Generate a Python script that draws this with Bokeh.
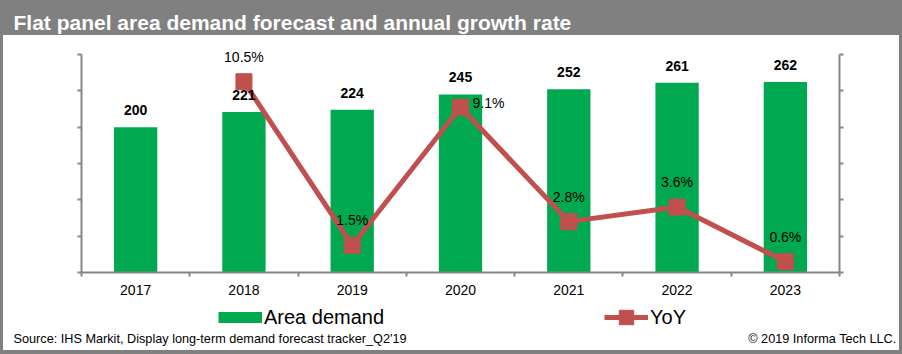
from bokeh.plotting import figure
from bokeh.layouts import column
from bokeh.models import (Range1d, LinearAxis, FixedTicker, ColumnDataSource,
                          LabelSet, Label, Legend, LegendItem)
from bokeh.core.properties import value
from bokeh.embed import file_html
from bokeh.resources import INLINE

# ---- data ----
years = ["2017", "2018", "2019", "2020", "2021", "2022", "2023"]
area_demand = [200, 221, 224, 245, 252, 261, 262]
yoy_years = ["2018", "2019", "2020", "2021", "2022", "2023"]
yoy_pct = [10.5, 1.5, 9.1, 2.8, 3.6, 0.6]
left_ticks = [0, 50, 100, 150, 200, 250, 300]
right_ticks = [0, 2, 4, 6, 8, 10, 12]

title_text = "Flat panel area demand forecast and annual growth rate"
source_text = "Source: IHS Markit, Display long-term demand forecast tracker_Q2'19"
copyright_text = "\u00a9 2019 Informa Tech LLC."

GREEN = "#00A94F"
RED = "#C0504D"
AXIS = "#868686"
FRAME = "#808080"
FONT = "Liberation Sans"

xpos = {y: i + 0.5 for i, y in enumerate(years)}
bar_src = ColumnDataSource(dict(x=[xpos[y] for y in years], top=area_demand,
                                label=[str(v) for v in area_demand]))
yoy_src = ColumnDataSource(dict(x=[xpos[y] for y in yoy_years], y=yoy_pct,
                                label=[f"{v:.1f}%" for v in yoy_pct]))
side_idx = [yoy_years.index("2020")]
above_idx = [i for i in range(len(yoy_years)) if i not in side_idx]
yoy_above = ColumnDataSource(dict(x=[xpos[yoy_years[i]] for i in above_idx],
                                  y=[yoy_pct[i] for i in above_idx],
                                  label=[f"{yoy_pct[i]:.1f}%" for i in above_idx]))
yoy_side = ColumnDataSource(dict(x=[xpos[yoy_years[i]] for i in side_idx],
                                 y=[yoy_pct[i] for i in side_idx],
                                 label=[f"{yoy_pct[i]:.1f}%" for i in side_idx]))

# headroom above the top tick so labels near the top are not clipped
head = 1.0733
L_TOP = left_ticks[-1] * head
R_TOP = right_ticks[-1] * head

# ================= main chart =================
p = figure(width=902, height=302, x_range=Range1d(0, len(years)),
           y_range=Range1d(0, L_TOP),
           output_backend="svg", toolbar_location=None,
           min_border_left=81, min_border_right=63, min_border_top=38, min_border_bottom=30)
p.frame_align = False
p.extra_y_ranges = {"yoy": Range1d(0, R_TOP)}
p.xgrid.grid_line_color = None
p.ygrid.grid_line_color = None
p.outline_line_color = None
p.background_fill_color = "white"
p.border_fill_color = "white"
p.border_fill_alpha = 0
p.styles = {
    "background-color": "white",
    "background-image": f"linear-gradient({FRAME}, {FRAME})",
    "background-size": "100% 35px",
    "background-repeat": "no-repeat",
    "background-position": "top left",
    "box-shadow": f"inset 3px 0 0 {FRAME}, inset -3px 0 0 {FRAME}",
}

p.title.text = title_text
p.title.align = "left"
p.title.offset = -68
p.title.standoff = 10
p.title.vertical_align = "bottom"
p.title.text_font = FONT
p.title.text_font_size = "21px"
p.title.text_font_style = "bold"
p.title.text_color = "white"

xa = p.xaxis[0]
xa.ticker = FixedTicker(ticks=[xpos[y] for y in years], minor_ticks=list(range(len(years) + 1)))
xa.major_label_overrides = {xpos[y]: y for y in years}
xa.major_tick_out = 0
xa.major_tick_in = 0
xa.minor_tick_out = 4
xa.minor_tick_in = 0
xa.minor_tick_line_color = AXIS
xa.minor_tick_line_width = 2
xa.axis_line_color = AXIS
xa.axis_line_width = 2
xa.major_label_text_font = FONT
xa.major_label_text_font_size = "14px"
xa.major_label_text_color = "#000000"
xa.major_label_standoff = 8

ya = p.yaxis[0]
ya.ticker = FixedTicker(ticks=left_ticks)
ya.bounds = (left_ticks[0], left_ticks[-1])
ya.major_label_text_color = None
ya.major_tick_out = 4
ya.major_tick_in = 0
ya.minor_tick_line_color = None
ya.axis_line_color = AXIS
ya.axis_line_width = 2
ya.major_tick_line_color = AXIS
ya.major_tick_line_width = 2

ra = LinearAxis(y_range_name="yoy", ticker=FixedTicker(ticks=right_ticks),
                bounds=(right_ticks[0], right_ticks[-1]))
ra.major_label_text_color = None
ra.major_tick_out = 4
ra.major_tick_in = 0
ra.minor_tick_line_color = None
ra.axis_line_color = AXIS
ra.axis_line_width = 2
ra.major_tick_line_color = AXIS
ra.major_tick_line_width = 2
p.add_layout(ra, "right")

bars = p.vbar(x="x", top="top", width=0.4, source=bar_src, fill_color=GREEN, line_color=None)
line = p.line(x="x", y="y", source=yoy_src, y_range_name="yoy", line_color=RED, line_width=5)
marks = p.scatter(x="x", y="y", source=yoy_src, y_range_name="yoy", marker="square", size=16,
                  fill_color=RED, line_color=RED)

p.add_layout(LabelSet(x="x", y="top", text="label", source=bar_src, y_offset=12,
                      text_align="center", text_baseline="alphabetic",
                      text_font=value(FONT), text_font_size="14px", text_font_style="bold",
                      text_color="#000000"))
p.add_layout(LabelSet(x="x", y="y", text="label", source=yoy_above, y_range_name="yoy",
                      y_offset=20, text_align="center", text_baseline="alphabetic",
                      text_font=value(FONT), text_font_size="14px", text_color="#000000"))
p.add_layout(LabelSet(x="x", y="y", text="label", source=yoy_side, y_range_name="yoy",
                      x_offset=12, y_offset=4, text_align="left", text_baseline="middle",
                      text_font=value(FONT), text_font_size="14px", text_color="#000000"))

# ================= footer: legend + source =================
ft = figure(width=902, height=52, output_backend="svg", toolbar_location=None,
            x_axis_location=None, y_axis_location=None, min_border=0,
            x_range=Range1d(-2, -1), y_range=Range1d(-2, -1))
ft.frame_align = False
ft.outline_line_color = None
ft.xgrid.grid_line_color = None
ft.ygrid.grid_line_color = None
ft.background_fill_alpha = 0
ft.border_fill_alpha = 0
ft.styles = {
    "background-color": "white",
    "box-shadow": f"inset 3px 0 0 {FRAME}, inset -3px 0 0 {FRAME}, inset 0 -4px 0 {FRAME}",
}
# legend swatch renderers (their data lie outside this footer's ranges)
ft.extra_y_ranges = {"yoy": Range1d(-2, -1)}
area_sw = ft.line(x="x", y="top", source=bar_src, line_color=GREEN, line_width=11,
                  line_cap="butt")
yoy_line_sw = ft.line(x="x", y="y", source=yoy_src, y_range_name="yoy",
                      line_color=RED, line_width=5)
yoy_mark_sw = ft.scatter(x="x", y="y", source=yoy_src, y_range_name="yoy", marker="square",
                         size=16, fill_color=RED, line_color=RED)

leg = Legend(items=[LegendItem(label="Area demand", renderers=[area_sw]),
                    LegendItem(label="YoY", renderers=[yoy_line_sw, yoy_mark_sw])],
             orientation="horizontal", location=(218, 19),
             glyph_width=44, glyph_height=36, label_standoff=2, spacing=220,
             padding=0, margin=0, border_line_color=None, background_fill_alpha=0,
             label_text_font=FONT, label_text_font_size="20px", label_text_color="#000000")
ft.add_layout(leg, "center")

ft.add_layout(Label(x=13, y=36, x_units="canvas", y_units="canvas", text=source_text,
                    text_font=FONT, text_font_size="12.7px", text_color="#000000",
                    text_baseline="alphabetic"))
ft.add_layout(Label(x=896, y=36, x_units="canvas", y_units="canvas", text=copyright_text,
                    text_font=FONT, text_font_size="12.7px", text_color="#000000",
                    text_align="right", text_baseline="alphabetic"))

layout = column(p, ft, spacing=0)
open("out.html", "w").write(file_html(layout, INLINE))
